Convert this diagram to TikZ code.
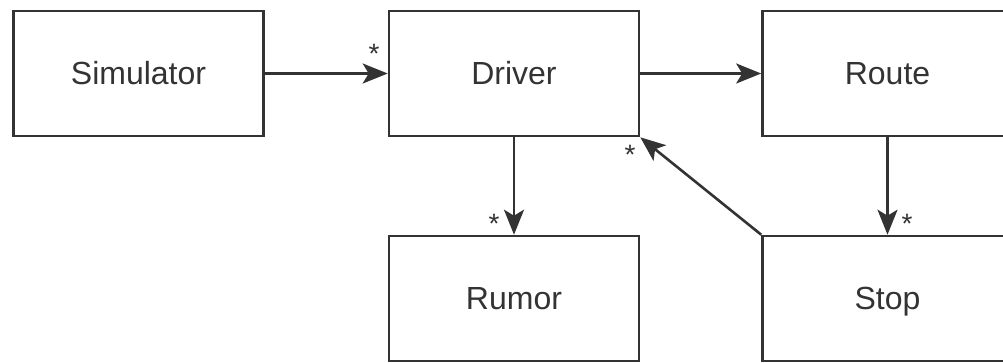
\documentclass[tikz,border=0pt]{standalone}
\usepackage{fontspec}
\setmainfont{Liberation Sans}
\usetikzlibrary{arrows.meta}
\definecolor{ink}{HTML}{333333}
\tikzset{
  cls/.style={draw=ink, line width=2.6pt, minimum width=250pt, minimum height=125pt, inner sep=0pt, font=\fontsize{32}{36}\selectfont, text=ink, text height=23pt, text depth=2pt},
  assoc/.style={draw=ink, line width=2.6pt, -{Stealth[length=25pt,width=20pt,inset=6pt]}},
  mult/.style={inner sep=0pt, font=\fontsize{28}{30}\selectfont, text=ink}
}
\begin{document}
\begin{tikzpicture}[x=1pt,y=-1pt]
\useasboundingbox (0,0) rectangle (1003,362);
\node[cls] (sim) at (138.5,73.5) {Simulator};
\node[cls] (drv) at (514,73.5) {Driver};
\node[cls] (route) at (887.5,73.5) {Route};
\node[cls] (rumor) at (514,298.5) {Rumor};
\node[cls] (stop) at (887.5,298.5) {Stop};
\draw[assoc] (sim.east) -- (drv.west);
\draw[assoc] (drv.east) -- (route.west);
\draw[assoc] (drv.south) -- (rumor.north);
\draw[assoc] (route.south) -- (stop.north);
\draw[assoc] (stop.north west) -- (drv.south east);
\node[mult] (m1) at (374,54) {*};
\node[mult] (m2) at (630,155) {*};
\node[mult] (m3) at (494,224) {*};
\node[mult] (m4) at (907,224) {*};
\end{tikzpicture}
\end{document}
